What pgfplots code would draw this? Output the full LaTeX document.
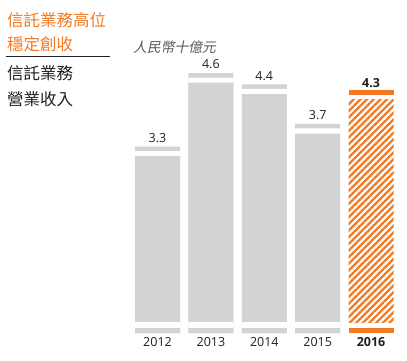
\documentclass[border=0pt]{standalone}
\usepackage{pgfplots}
\pgfplotsset{compat=1.18}
\usepackage{pgfplotstable}
\usetikzlibrary{patterns.meta}
\usepackage{fontspec}
\setmainfont{Open Sans}
\newfontfamily\cjk{Noto Sans CJK TC}
\newfontfamily\cjkit{Noto Sans CJK TC}[FakeSlant=0.2]
\definecolor{myorange}{HTML}{F47920}
\definecolor{mygray}{HTML}{D1D3D4}
\definecolor{txt}{HTML}{231F20}
\definecolor{unitgray}{HTML}{58595B}

\pgfplotstableread{
x v
0 3.3
1 4.6
2 4.4
3 3.7
}\greydata
\pgfplotstableread{
x v
4 4.3
}\hldata

\pgfplotsset{
  common/.style={
    at={(130.8pt,27pt)}, anchor=south west,
    scale only axis, width=267pt, height=282.5pt,
    xmin=-0.5, xmax=4.5, ymin=0, ymax=5,
    axis line style={draw=none}, major tick length=0pt,
    ytick=\empty, clip=false,
    /pgf/number format/assume math mode=true,
    /pgf/number format/.cd, fixed, fixed zerofill, precision=1, /pgfplots/.cd,
  },
  mybar/.style={ybar, bar width=45pt, bar shift=0pt, draw=none},
}

\begin{document}
\begin{tikzpicture}[x=1pt,y=1pt]
\path[use as bounding box] (0,0) rectangle (407,360);
\begin{axis}[common,
  xtick={0,1,2,3,4},
  xticklabels={2012,2013,2014,2015,\textbf{2016}},
  xticklabel style={font=\fontsize{12.5}{14}\selectfont, text=txt, yshift=-1pt},
]
% grey bars
\addplot[mybar, fill=mygray, nodes near coords,
  nodes near coords style={font=\fontsize{12.5}{14}\selectfont, text=txt, yshift=0.5pt}]
  table[x=x,y=v]{\greydata};
\addplot[mybar, fill=white] table[x=x, y expr=\thisrow{v}-0.08]{\greydata};
\addplot[mybar, fill=mygray] table[x=x, y expr=\thisrow{v}-0.17]{\greydata};
\addplot[mybar, fill=white] table[x=x, y expr=0.194]{\greydata};
\addplot[mybar, fill=mygray] table[x=x, y expr=0.088]{\greydata};
\end{axis}
% highlighted 2016 as stacked segments
\begin{axis}[common, ybar stacked, bar width=45pt, xtick=\empty]
\addplot[fill=myorange, draw=none] table[x=x, y expr=0.088]{\hldata};
\addplot[fill=none, draw=none] table[x=x, y expr=0.106]{\hldata};
\addplot[draw=none, pattern={Lines[angle=45,distance=4.7pt,line width=2.3pt]}, pattern color=myorange]
  table[x=x, y expr=\thisrow{v}-0.17-0.194]{\hldata};
\addplot[fill=none, draw=none] table[x=x, y expr=0.09]{\hldata};
\addplot[fill=myorange, draw=none, point meta=explicit, nodes near coords,
  nodes near coords style={anchor=south, font=\bfseries\fontsize{12.5}{14}\selectfont, text=txt, yshift=1.5pt}]
  table[x=x, y expr=0.08, meta=v]{\hldata};
\end{axis}
\node[anchor=west, inner sep=0, text=myorange, font=\cjk\fontsize{16.5}{16.5}\selectfont] at (7,340) {信託業務高位};
\node[anchor=west, inner sep=0, text=myorange, font=\cjk\fontsize{16.5}{16.5}\selectfont] at (7,315.5) {穩定創收};
\draw[txt, line width=1pt] (6,303.3) -- (110,303.3);
\node[anchor=west, inner sep=0, text=txt, font=\cjk\fontsize{16.5}{16.5}\selectfont] at (7,287) {信託業務};
\node[anchor=west, inner sep=0, text=txt, font=\cjk\fontsize{16.5}{16.5}\selectfont] at (7,260.5) {營業收入};
\node[anchor=west, inner sep=0, text=unitgray, font=\cjkit\fontsize{13.8}{13.8}\selectfont] at (133,313) {人民幣十億元};
\end{tikzpicture}
\end{document}
